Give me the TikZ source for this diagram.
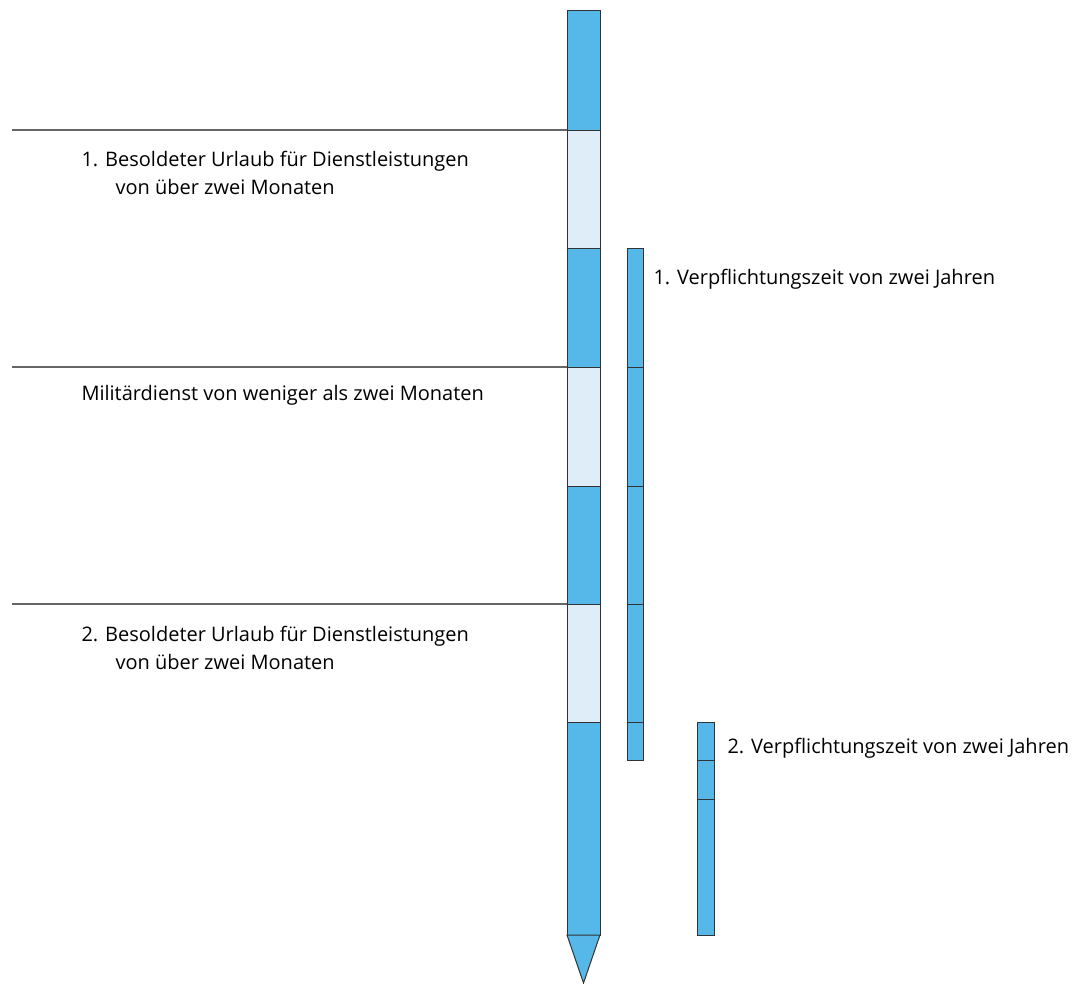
\documentclass[tikz,border=0pt]{standalone}
\usepackage{fontspec}
\setmainfont{Open Sans}
\definecolor{balken}{HTML}{55B8E8}
\definecolor{hell}{HTML}{DFEDF8}
\begin{document}
\begin{tikzpicture}[x=1pt,y=-1pt,line width=1pt,
  seg/.style={draw=black!80,fill=balken},
  lseg/.style={draw=black!80,fill=hell},
  trenn/.style={draw=black!60,line width=1.2pt},
  lbl/.style={anchor=base west,inner sep=0pt,font=\fontsize{20}{24}\selectfont}]
\useasboundingbox (0,0) rectangle (1078,983);
%Trennlinien
  \draw[trenn] (12,130) -- (567,130);
  \draw[trenn] (12,367) -- (567,367);
  \draw[trenn] (12,604) -- (567,604);
%Hauptbalken
  \filldraw[seg] (567,10) rectangle (600,130);
  \filldraw[lseg] (567,130) rectangle (600,248);
  \filldraw[seg] (567,248) rectangle (600,367);
  \filldraw[lseg] (567,367) rectangle (600,486);
  \filldraw[seg] (567,486) rectangle (600,604);
  \filldraw[lseg] (567,604) rectangle (600,722);
  \filldraw[seg] (567,722) rectangle (600,935);
  \filldraw[seg] (567,935) -- (600,935) -- (583.5,983) -- cycle;
%erste Verpflichtungszeit
  \filldraw[seg] (627,248) rectangle (643,367);
  \filldraw[seg] (627,367) rectangle (643,486);
  \filldraw[seg] (627,486) rectangle (643,604);
  \filldraw[seg] (627,604) rectangle (643,722);
  \filldraw[seg] (627,722) rectangle (643,760);
%zweite Verpflichtungszeit
  \filldraw[seg] (697,722) rectangle (714,760);
  \filldraw[seg] (697,760) rectangle (714,799);
  \filldraw[seg] (697,799) rectangle (714,935);
%Beschriftungen
  \node[lbl] (urlaub1a) at (81,166) {1. Besoldeter Urlaub für Dienstleistungen};
  \node[lbl] (urlaub1b) at (115,194) {von über zwei Monaten};
  \node[lbl] (militaer) at (81,400) {Militärdienst von weniger als zwei Monaten};
  \node[lbl] (urlaub2a) at (81,641) {2. Besoldeter Urlaub für Dienstleistungen};
  \node[lbl] (urlaub2b) at (115,669) {von über zwei Monaten};
  \node[lbl] (verpfl1) at (653,284) {1. Verpflichtungszeit von zwei Jahren};
  \node[lbl] (verpfl2) at (727,753) {2. Verpflichtungszeit von zwei Jahren};
\end{tikzpicture}
\end{document}
